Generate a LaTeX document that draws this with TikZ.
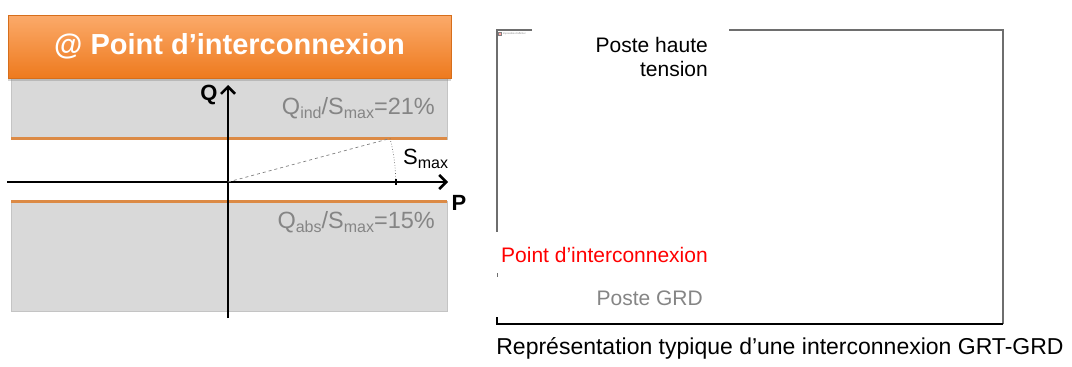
\documentclass[tikz,border=0pt]{standalone}
\usepackage{fontspec}
\setmainfont{Liberation Sans}
\usetikzlibrary{arrows.meta,positioning,calc,shadows}
\pgfdeclarelayer{bg}
\pgfsetlayers{bg,main}
\definecolor{bande}{HTML}{D9D9D9}
\definecolor{bord}{HTML}{C4C4C4}
\definecolor{orangeligne}{HTML}{DC8A45}
\definecolor{orangehaut}{HTML}{FBAA6A}
\definecolor{orangebas}{HTML}{EE7A1E}
\definecolor{textegris}{HTML}{858585}
\definecolor{cadre}{HTML}{6E6E6E}
\newcommand{\sousindice}[1]{\raisebox{-4.5pt}{\fontsize{16}{16}\selectfont #1}}
\tikzset{
  zone/.style={fill=bande, draw=bord, line width=1pt},
  limite/.style={orangeligne, line width=3pt},
  axe/.style={line width=2.5pt, -{Straight Barb[length=7pt,width=14pt]}},
  gras/.style={font=\fontsize{22}{24}\selectfont\bfseries},
  ratio/.style={textegris, font=\fontsize{23.5}{26}\selectfont, anchor=east, inner sep=0pt},
  legende/.style={font=\fontsize{21}{24}\selectfont, inner sep=0pt}
}

\begin{document}
\begin{tikzpicture}[x=1pt,y=-1pt]
    \useasboundingbox (0,0) rectangle (1072,367);

    % diagramme P-Q
    \begin{pgfonlayer}{bg}
        \draw [zone] (11,78) rectangle (447,139);
        \draw [zone] (11,201) rectangle (447,311);
    \end{pgfonlayer}
    \draw [limite] (11,138.5) -- (447,138.5);
    \draw [limite] (11,201) -- (447,201);

    \node [top color=orangehaut, bottom color=orangebas, draw=orangebas!90!black, line width=0.5pt,
           drop shadow={opacity=0.35, shadow xshift=0pt, shadow yshift=-3pt},
           minimum width=443pt, minimum height=63pt, text=white,
           font=\fontsize{29}{32}\selectfont\bfseries] (titre) at (229.5,46.5) {@ Point d’interconnexion};

    \coordinate (O) at (228,182);
    \coordinate (Pfin) at (448,182);
    \coordinate (Pdeb) at (7,182);
    \coordinate (Qfin) at (228,85);
    \coordinate (Qdeb) at (228,318);
    \coordinate (S) at ($(O)+(162,-43.5)$);
    \coordinate (Sp) at ($(O)+(168,0)$);

    \draw [axe] (Pdeb) -- (Pfin);
    \draw [axe] (Qdeb) -- (Qfin);
    \draw [gray, dashed, line width=0.7pt] (O) -- (S);
    \draw [gray!80!black, dotted, line width=0.7pt] (S) arc[start angle=-15, end angle=0, radius=168];
    \draw [line width=1.5pt] ($(Sp)+(0,-3)$) -- ($(Sp)+(0,3)$);

    \node [gras] (Q) at (209,95) {Q};
    \node [gras] (P) at (459,203) {P};
    \node [legende, anchor=west, font=\fontsize{22}{24}\selectfont] (smax) at (403,159) {S\sousindice{max}};
    \node [ratio] (qind) at (435,108) {Q\sousindice{ind}/S\sousindice{max}=21\%};
    \node [ratio] (qabs) at (435,222) {Q\sousindice{abs}/S\sousindice{max}=15\%};

    % schema de l'interconnexion
    \draw [cadre, line width=1.2pt] (532,30) -- (497,30) -- (497,232);
    \draw [cadre, line width=1.2pt] (729,30) -- (1003,30) -- (1003,324);
    \draw [black, line width=1.2pt] (1003,324) -- (497,324) -- (497,317);
    \draw [cadre, line width=1pt] (497,273) -- (497,277);

    \node [fill=red!35, draw=gray, line width=0.3pt, minimum size=3pt, inner sep=0pt] (icone) at (500,34) {};
    \node [right=1pt of icone, inner sep=0pt, text=gray, font=\fontsize{2.5}{3}\selectfont] (alt) {Impossible d’afficher};

    \node [legende, align=right, anchor=east] (hta) at (708,57) {Poste haute\\tension};
    \node [legende, text=red, anchor=east] (point) at (708,255) {Point d’interconnexion};
    \node [legende, text=textegris, anchor=east] (grd) at (703,298) {Poste GRD};
    \node [legende, font=\fontsize{23}{26}\selectfont] (titrebas) at (780,348) {Représentation typique d’une interconnexion GRT-GRD};
\end{tikzpicture}
\end{document}
